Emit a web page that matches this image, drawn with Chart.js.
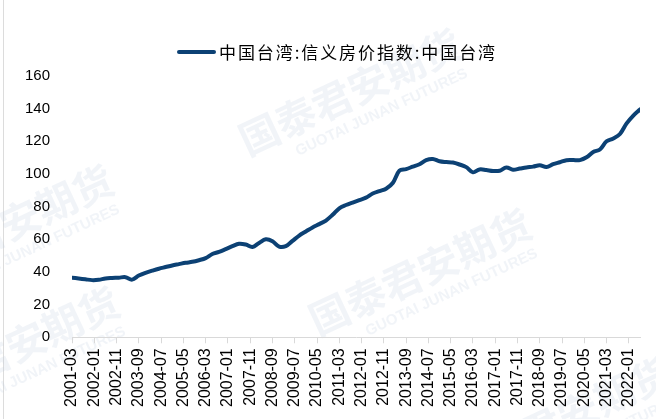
<!DOCTYPE html>
<html>
<head>
<meta charset="utf-8">
<script src="https://cdn.jsdelivr.net/npm/chart.js@4.4.1/dist/chart.umd.min.js"></script>
<style>
html,body{margin:0;padding:0;background:#fff;}
#wrap{width:656px;height:419px;position:relative;}
canvas{display:block;}
</style>
</head>
<body>
<div id="wrap"><canvas id="c" width="656" height="419"></canvas></div>
<script>
// ---- data ----
const seriesName = '中国台湾:信义房价指数:中国台湾';
const firstQuarter = '2001-03';
const quarterCount = 86; // 2001-03 ... 2022-06
const values = [
  36.5, 36.0, 35.5, 35.0, 35.2, 36.0, 36.3, 36.5, 36.8, 35.3,
  37.8, 39.5, 40.8, 42.0, 43.0, 44.0, 44.8, 45.6, 46.2, 47.2,
  48.5, 51.0, 52.3, 54.0, 55.8, 57.3, 56.8, 55.3, 57.8, 60.0,
  58.8, 55.5, 55.8, 59.0, 62.3, 64.8, 67.3, 69.3, 71.5, 75.0,
  79.0, 81.0, 82.5, 84.0, 85.5, 88.0, 89.5, 91.0, 94.5, 102.0,
  103.0, 104.5, 106.0, 108.5, 109.2, 107.8, 107.3, 107.0, 105.8, 104.2,
  101.0, 102.8, 102.4, 101.8, 102.0, 104.0, 102.6, 103.3, 104.0, 104.5,
  105.3, 104.3, 106.0, 107.2, 108.4, 108.5, 108.5, 110.2, 113.5, 115.0,
  120.0, 121.8, 124.5, 131.0, 135.8, 139.5
];
const tickLabels = [
  '2001-03','2002-01','2002-11','2003-09','2004-07','2005-05','2006-03',
  '2007-01','2007-11','2008-09','2009-07','2010-05','2011-03','2012-01',
  '2012-11','2013-09','2014-07','2015-05','2016-03','2017-01','2017-11',
  '2018-09','2019-07','2020-05','2021-03','2022-01'
];
const yMin = 0, yMax = 160, yStep = 20;

// ---- helpers ----
function monthIndex(label){
  const [y,m] = label.split('-').map(Number);
  const [y0,m0] = firstQuarter.split('-').map(Number);
  return (y - y0) * 12 + (m - m0);
}
const quarters = [];
{
  let [y,m] = firstQuarter.split('-').map(Number);
  for (let i = 0; i < quarterCount; i++){
    quarters.push(y + '-' + String(m).padStart(2,'0'));
    m += 3; if (m > 12){ m -= 12; y += 1; }
  }
}
const points = quarters.map((q,i) => ({x: monthIndex(q), y: values[i]}));
const lastIdx = monthIndex(quarters[quarters.length-1]);
const tickByIndex = {};
tickLabels.forEach(l => { tickByIndex[monthIndex(l)] = l; });

const lineColor = '#0c4174';

const watermarkPlugin = {
  id: 'wm',
  beforeDraw(chart){
    const ctx = chart.ctx;
    ctx.save();
    ctx.strokeStyle = '#dcdcdc'; ctx.lineWidth = 1;
    ctx.beginPath(); ctx.moveTo(3.5, 0); ctx.lineTo(3.5, 419); ctx.stroke();
    const marks = [[350, 92], [420, 272], [2, 228], [8, 350], [560, 420]];
    marks.forEach(([cx, cy]) => {
      ctx.save();
      ctx.translate(cx, cy);
      ctx.rotate(-25 * Math.PI / 180);
      ctx.textAlign = 'center'; ctx.textBaseline = 'middle';
      ctx.fillStyle = 'rgba(190,203,222,0.22)';
      ctx.font = 'bold 40px "Noto Sans CJK SC"';
      ctx.fillText('国泰君安期货', 0, 0);
      ctx.font = 'bold 15px "Liberation Sans"';
      ctx.fillText('GUOTAI JUNAN FUTURES', 20, 32);
      ctx.restore();
    });
    ctx.restore();
  }
};

const legendPlugin = {
  id: 'customLegend',
  afterDraw(chart){
    const ctx = chart.ctx;
    const ds = chart.data.datasets[0];
    ctx.save();
    ctx.strokeStyle = ds.borderColor; ctx.lineWidth = 4; ctx.lineCap = 'round';
    ctx.beginPath(); ctx.moveTo(179, 52); ctx.lineTo(214, 52); ctx.stroke();
    ctx.font = '17px "Noto Sans CJK SC"';
    ctx.fillStyle = '#000';
    ctx.textBaseline = 'middle';
    const w = ctx.measureText(ds.label).width;
    const n = [...ds.label].length;
    const sp = Math.max(0, (278 - w) / n);
    ctx.letterSpacing = sp.toFixed(2) + 'px';
    ctx.fillText(ds.label, 219, 53);
    ctx.restore();
  }
};

new Chart(document.getElementById('c'), {
  type: 'line',
  data: {
    datasets: [{
      label: seriesName,
      data: points,
      borderColor: lineColor,
      backgroundColor: lineColor,
      borderWidth: 4,
      pointRadius: 0,
      tension: 0.35,
      borderCapStyle: 'round',
      borderJoinStyle: 'round',
      fill: false
    }]
  },
  options: {
    responsive: false,
    animation: false,
    devicePixelRatio: 1,
    layout: { padding: { left: 20, right: 16, top: 76, bottom: 7 } },
    plugins: { legend: { display: false }, tooltip: { enabled: false } },
    scales: {
      x: {
        type: 'linear',
        min: 0,
        max: lastIdx,
        afterBuildTicks(scale){
          scale.ticks = tickLabels.map(l => ({ value: monthIndex(l) }));
        },
        grid: { drawOnChartArea: false, drawTicks: true, tickLength: 6, color: '#d9d9d9' },
        border: { display: true, color: '#d9d9d9', width: 1 },
        ticks: {
          autoSkip: false, maxRotation: 90, minRotation: 90,
          padding: 5, color: '#000',
          font: { family: '"Liberation Sans", Arial, sans-serif', size: 16 },
          callback: (v) => tickByIndex[v] || ''
        }
      },
      y: {
        min: yMin, max: yMax,
        afterFit(scale){ scale.width = 52; },
        ticks: {
          stepSize: yStep, padding: 14, color: '#000',
          font: { family: '"Liberation Sans", Arial, sans-serif', size: 15 }
        },
        grid: { display: false },
        border: { display: false }
      }
    }
  },
  plugins: [watermarkPlugin, legendPlugin]
});
</script>
</body>
</html>
